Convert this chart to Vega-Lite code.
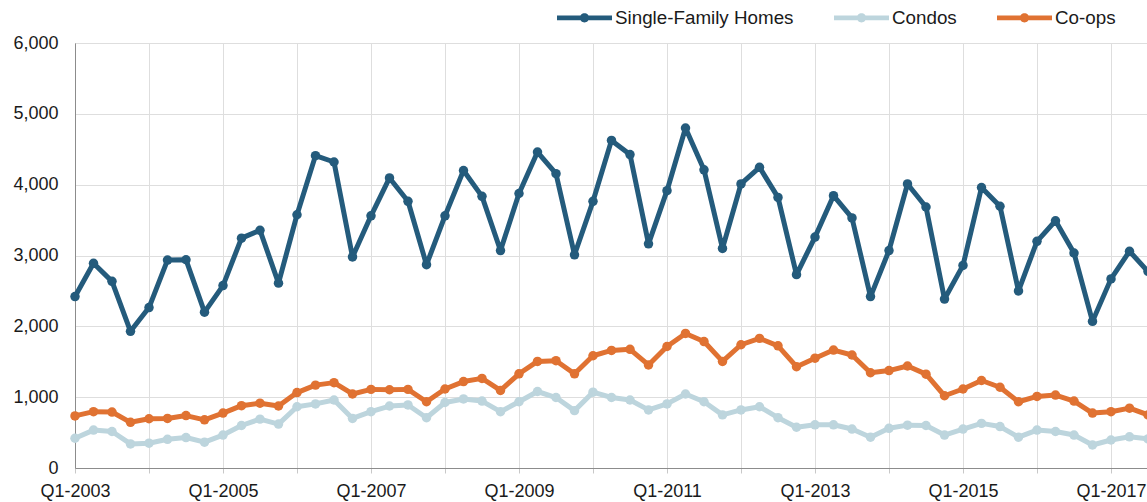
{
  "$schema": "https://vega.github.io/schema/vega-lite/v6.json",
  "width": 1073,
  "height": 425,
  "autosize": {"type": "none"},
  "padding": {"left": 75, "top": 43, "right": 0, "bottom": 34},
  "background": "white",
  "config": {
    "font": "Liberation Sans",
    "view": {"stroke": "#8c8c8c", "strokeWidth": 1},
    "axis": {"labelFont": "Liberation Sans", "labelFontSize": 18, "labelColor": "#1a1a1a", "gridColor": "#dedede", "gridWidth": 1, "domainColor": "#8c8c8c", "tickColor": "#c8c8c8", "title": null}
  },
  "data": {
    "values": [
      {"q":"Q1-2003","Single-Family Homes":2420,"Condos":420,"Co-ops":735},
      {"q":"Q2-2003","Single-Family Homes":2890,"Condos":535,"Co-ops":795},
      {"q":"Q3-2003","Single-Family Homes":2635,"Condos":515,"Co-ops":790},
      {"q":"Q4-2003","Single-Family Homes":1930,"Condos":340,"Co-ops":645},
      {"q":"Q1-2004","Single-Family Homes":2265,"Condos":350,"Co-ops":695},
      {"q":"Q2-2004","Single-Family Homes":2935,"Condos":405,"Co-ops":700},
      {"q":"Q3-2004","Single-Family Homes":2940,"Condos":430,"Co-ops":740},
      {"q":"Q4-2004","Single-Family Homes":2200,"Condos":365,"Co-ops":680},
      {"q":"Q1-2005","Single-Family Homes":2575,"Condos":465,"Co-ops":775},
      {"q":"Q2-2005","Single-Family Homes":3245,"Condos":600,"Co-ops":880},
      {"q":"Q3-2005","Single-Family Homes":3355,"Condos":690,"Co-ops":915},
      {"q":"Q4-2005","Single-Family Homes":2610,"Condos":620,"Co-ops":875},
      {"q":"Q1-2006","Single-Family Homes":3575,"Condos":865,"Co-ops":1065},
      {"q":"Q2-2006","Single-Family Homes":4410,"Condos":905,"Co-ops":1170},
      {"q":"Q3-2006","Single-Family Homes":4320,"Condos":960,"Co-ops":1205},
      {"q":"Q4-2006","Single-Family Homes":2980,"Condos":700,"Co-ops":1045},
      {"q":"Q1-2007","Single-Family Homes":3560,"Condos":795,"Co-ops":1110},
      {"q":"Q2-2007","Single-Family Homes":4095,"Condos":875,"Co-ops":1105},
      {"q":"Q3-2007","Single-Family Homes":3765,"Condos":890,"Co-ops":1110},
      {"q":"Q4-2007","Single-Family Homes":2870,"Condos":710,"Co-ops":935},
      {"q":"Q1-2008","Single-Family Homes":3560,"Condos":925,"Co-ops":1115},
      {"q":"Q2-2008","Single-Family Homes":4200,"Condos":975,"Co-ops":1220},
      {"q":"Q3-2008","Single-Family Homes":3835,"Condos":945,"Co-ops":1265},
      {"q":"Q4-2008","Single-Family Homes":3070,"Condos":795,"Co-ops":1095},
      {"q":"Q1-2009","Single-Family Homes":3875,"Condos":935,"Co-ops":1330},
      {"q":"Q2-2009","Single-Family Homes":4460,"Condos":1080,"Co-ops":1505},
      {"q":"Q3-2009","Single-Family Homes":4155,"Condos":995,"Co-ops":1515},
      {"q":"Q4-2009","Single-Family Homes":3010,"Condos":810,"Co-ops":1330},
      {"q":"Q1-2010","Single-Family Homes":3765,"Condos":1070,"Co-ops":1585},
      {"q":"Q2-2010","Single-Family Homes":4625,"Condos":995,"Co-ops":1660},
      {"q":"Q3-2010","Single-Family Homes":4425,"Condos":960,"Co-ops":1675},
      {"q":"Q4-2010","Single-Family Homes":3165,"Condos":820,"Co-ops":1455},
      {"q":"Q1-2011","Single-Family Homes":3915,"Condos":905,"Co-ops":1715},
      {"q":"Q2-2011","Single-Family Homes":4800,"Condos":1045,"Co-ops":1900},
      {"q":"Q3-2011","Single-Family Homes":4210,"Condos":935,"Co-ops":1785},
      {"q":"Q4-2011","Single-Family Homes":3100,"Condos":750,"Co-ops":1505},
      {"q":"Q1-2012","Single-Family Homes":4010,"Condos":820,"Co-ops":1740},
      {"q":"Q2-2012","Single-Family Homes":4245,"Condos":865,"Co-ops":1830},
      {"q":"Q3-2012","Single-Family Homes":3820,"Condos":710,"Co-ops":1725},
      {"q":"Q4-2012","Single-Family Homes":2730,"Condos":575,"Co-ops":1430},
      {"q":"Q1-2013","Single-Family Homes":3260,"Condos":610,"Co-ops":1550},
      {"q":"Q2-2013","Single-Family Homes":3845,"Condos":610,"Co-ops":1665},
      {"q":"Q3-2013","Single-Family Homes":3530,"Condos":550,"Co-ops":1595},
      {"q":"Q4-2013","Single-Family Homes":2420,"Condos":435,"Co-ops":1345},
      {"q":"Q1-2014","Single-Family Homes":3070,"Condos":560,"Co-ops":1375},
      {"q":"Q2-2014","Single-Family Homes":4010,"Condos":605,"Co-ops":1440},
      {"q":"Q3-2014","Single-Family Homes":3685,"Condos":600,"Co-ops":1325},
      {"q":"Q4-2014","Single-Family Homes":2385,"Condos":465,"Co-ops":1020},
      {"q":"Q1-2015","Single-Family Homes":2860,"Condos":550,"Co-ops":1115},
      {"q":"Q2-2015","Single-Family Homes":3960,"Condos":630,"Co-ops":1235},
      {"q":"Q3-2015","Single-Family Homes":3695,"Condos":585,"Co-ops":1140},
      {"q":"Q4-2015","Single-Family Homes":2500,"Condos":435,"Co-ops":935},
      {"q":"Q1-2016","Single-Family Homes":3200,"Condos":535,"Co-ops":1010},
      {"q":"Q2-2016","Single-Family Homes":3490,"Condos":515,"Co-ops":1030},
      {"q":"Q3-2016","Single-Family Homes":3035,"Condos":465,"Co-ops":945},
      {"q":"Q4-2016","Single-Family Homes":2070,"Condos":325,"Co-ops":775},
      {"q":"Q1-2017","Single-Family Homes":2670,"Condos":395,"Co-ops":795},
      {"q":"Q2-2017","Single-Family Homes":3060,"Condos":440,"Co-ops":845},
      {"q":"Q3-2017","Single-Family Homes":2775,"Condos":410,"Co-ops":750}
    ]
  },
  "transform": [
    {"fold": ["Single-Family Homes", "Condos", "Co-ops"], "as": ["type", "value"]}
  ],
  "mark": {"type": "line", "strokeWidth": 5, "strokeCap": "round", "strokeJoin": "round", "point": {"filled": true, "size": 90, "opacity": 1}},
  "encoding": {
    "x": {
      "field": "q", "type": "ordinal", "sort": null,
      "scale": {"type": "point", "padding": 0},
      "axis": {
        "values": ["Q1-2003","Q1-2004","Q1-2005","Q1-2006","Q1-2007","Q1-2008","Q1-2009","Q1-2010","Q1-2011","Q1-2012","Q1-2013","Q1-2014","Q1-2015","Q1-2016","Q1-2017"],
        "labelExpr": "parseInt(substring(datum.value, 3)) % 2 == 1 ? datum.value : ''",
        "labelAngle": 0, "grid": true, "tickSize": 5, "labelPadding": 9, "labelOverlap": false,
        "labelFlush": false
      }
    },
    "y": {
      "field": "value", "type": "quantitative",
      "scale": {"domain": [0, 6000], "nice": false},
      "axis": {"values": [0,1000,2000,3000,4000,5000,6000], "format": ",d", "ticks": false, "labelPadding": 17, "grid": true}
    },
    "color": {
      "field": "type", "type": "nominal",
      "scale": {"domain": ["Single-Family Homes", "Condos", "Co-ops"], "range": ["#245b7c", "#bdd5dd", "#e07232"]},
      "legend": {
        "title": null, "orient": "none", "direction": "horizontal",
        "legendX": 482, "legendY": -53,
        "padding": 0,
        "symbolType": "M-1,-0.09L1,-0.09L1,0.09L-1,0.09ZM-0.17,0A0.17,0.17,0,1,1,0.17,0A0.17,0.17,0,1,1,-0.17,0Z",
        "symbolSize": 3025,
        "symbolStrokeWidth": 0,
        "symbolOpacity": 1,
        "labelFont": "Liberation Sans", "labelFontSize": 18.8, "labelColor": "#1a1a1a",
        "labelLimit": 400,
        "labelOffset": 3, "columnPadding": 40,
        "encode": {"symbols": {"update": {"fill": {"scale": "color", "field": "value"}, "opacity": {"value": 1}}}}
      }
    }
  }
}
